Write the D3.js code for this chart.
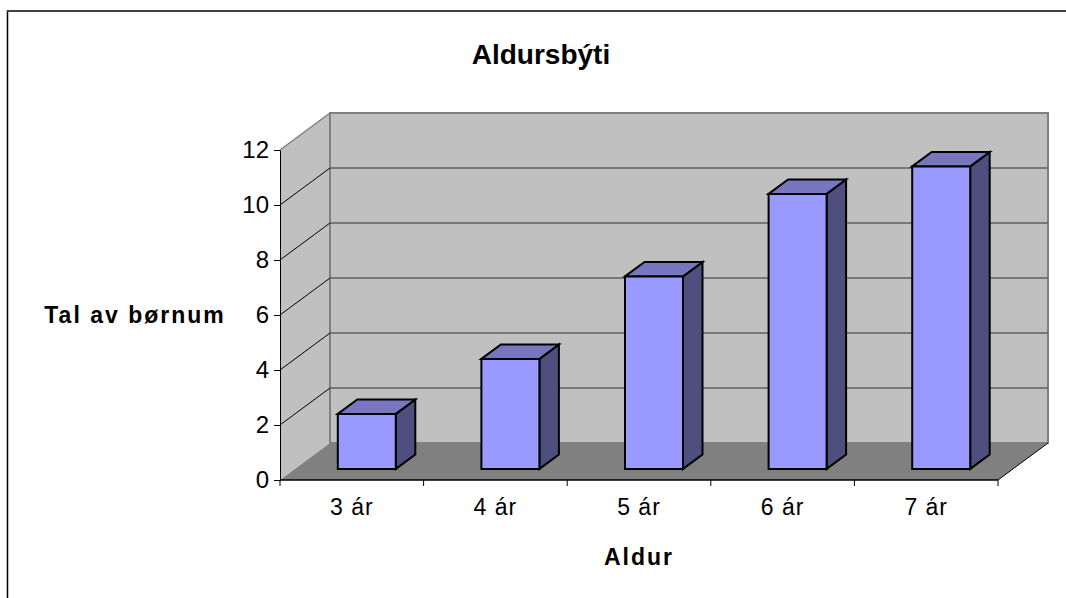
<!DOCTYPE html>
<html>
<head>
<meta charset="utf-8">
<script src="https://cdn.jsdelivr.net/npm/d3@7"></script>
<style>
  html, body { margin: 0; padding: 0; background: #fff; }
  svg { display: block; }
  text { font-family: "Liberation Sans", Arial, sans-serif; fill: #000; }
</style>
</head>
<body>
<div id="chart"></div>
<script>
(function () {
  const categories = ["3 ár", "4 ár", "5 ár", "6 ár", "7 ár"];
  const values = [2, 4, 7, 10, 11];
  const yTicks = [0, 2, 4, 6, 8, 10, 12];

  const width = 1066;
  const height = 598;

  // front edge of the 3d box, the back wall is this shifted by depth
  const depthX = 50;
  const depthY = -37;

  const x = d3.scaleBand(categories, [280, 998]);
  const y = d3.scaleLinear([0, 12], [480, 150]);

  // bars stand between these fractions of the floor depth
  const barFront = 0.3;
  const barBack = 0.69;
  const barWidth = 58;

  const svg = d3.select("#chart").append("svg")
    .attr("width", width)
    .attr("height", height);

  const line = d3.line();
  const x0 = x.range()[0];
  const x1 = x.range()[1];

  function shift(p, t) {
    return [p[0] + depthX * t, p[1] + depthY * t];
  }

  // chart frame, open on the right and bottom
  svg.append("path")
    .attr("d", line([[7.5, height], [7.5, 10]]))
    .attr("fill", "none")
    .attr("stroke", "#000")
    .attr("stroke-width", 1.5);

  svg.append("path")
    .attr("d", line([[7, 11], [width, 11]]))
    .attr("fill", "none")
    .attr("stroke", "#404040")
    .attr("stroke-width", 2);

  // side wall
  svg.append("path")
    .attr("d", line([[x0, y(0)], [x0, y(12)], shift([x0, y(12)], 1), shift([x0, y(0)], 1)]) + "Z")
    .attr("fill", "#c0c0c0");

  // back wall
  svg.append("path")
    .attr("d", line([shift([x0, y(0)], 1), shift([x0, y(12)], 1), shift([x1, y(12)], 1), shift([x1, y(0)], 1)]) + "Z")
    .attr("fill", "#c0c0c0")
    .attr("stroke", "#808080")
    .attr("stroke-width", 2);

  // floor
  svg.append("path")
    .attr("d", line([[x0, y(0)], shift([x0, y(0)], 1), shift([x1, y(0)], 1), [x1, y(0)]]) + "Z")
    .attr("fill", "#808080");

  svg.append("path")
    .attr("d", line([[x1, y(0)], shift([x1, y(0)], 1)]))
    .attr("stroke", "#000")
    .attr("fill", "none");

  // gridlines on back wall and side wall
  svg.append("g").selectAll("path")
    .data(yTicks.filter(function (d) { return d > 0 && d < 12; }))
    .join("path")
      .attr("d", function (d) { return line([shift([x0, y(d)], 1), shift([x1, y(d)], 1)]); })
      .attr("stroke", "#606060")
      .attr("stroke-width", 1.5);

  svg.append("g").selectAll("path")
    .data(yTicks.filter(function (d) { return d > 0 && d < 12; }))
    .join("path")
      .attr("d", function (d) { return line([[x0, y(d)], shift([x0, y(d)], 1)]); })
      .attr("stroke", "#000")
      .attr("stroke-width", 1);

  svg.append("path")
    .attr("d", line([[x0, y(12)], shift([x0, y(12)], 1)]))
    .attr("stroke", "#808080")
    .attr("stroke-width", 1.5);

  // axes
  const yAxis = d3.axisLeft(y).tickValues(yTicks).tickSize(6).tickPadding(5).tickSizeOuter(0);
  const gy = svg.append("g")
    .attr("transform", "translate(" + x0 + ",0)")
    .call(yAxis);
  gy.selectAll("text").attr("font-size", 24).attr("dy", "0.3em");

  const xAxis = d3.axisBottom(x).tickSize(0).tickPadding(19);
  const gx = svg.append("g")
    .attr("transform", "translate(0," + y(0) + ")")
    .call(xAxis);
  gx.select(".domain").remove();
  gx.selectAll("text").attr("font-size", 23).attr("letter-spacing", 1);
  gx.selectAll("line.sep")
    .data(d3.range(categories.length + 1))
    .join("line")
      .attr("class", "sep")
      .attr("x1", function (i) { return x0 + x.step() * i; })
      .attr("x2", function (i) { return x0 + x.step() * i; })
      .attr("y1", 0)
      .attr("y2", 6)
      .attr("stroke", "#000");

  svg.append("path")
    .attr("d", line([[x0, y(0)], [x1, y(0)]]))
    .attr("stroke", "#000")
    .attr("stroke-width", 1.5);

  // bars
  const bars = svg.append("g").selectAll("g")
    .data(categories.map(function (c, i) { return { cat: c, value: values[i] }; }))
    .join("g");

  function barCorners(d) {
    const left = x(d.cat) + (x.bandwidth() - barWidth) / 2;
    return {
      bl: shift([left, y(0)], barFront),
      br: shift([left + barWidth, y(0)], barFront),
      tl: shift([left, y(d.value)], barFront),
      tr: shift([left + barWidth, y(d.value)], barFront)
    };
  }

  function backOf(p) {
    return shift(p, barBack - barFront);
  }

  bars.append("path")
    .attr("d", function (d) {
      const c = barCorners(d);
      return line([c.tr, backOf(c.tr), backOf(c.br), c.br]) + "Z";
    })
    .attr("fill", "#4f4f7f");

  bars.append("path")
    .attr("d", function (d) {
      const c = barCorners(d);
      return line([c.tl, backOf(c.tl), backOf(c.tr), c.tr]) + "Z";
    })
    .attr("fill", "#7777bf");

  bars.append("path")
    .attr("d", function (d) {
      const c = barCorners(d);
      return line([c.bl, c.tl, c.tr, c.br]) + "Z";
    })
    .attr("fill", "#9999ff");

  bars.selectAll("path")
    .attr("stroke", "#000")
    .attr("stroke-width", 2)
    .attr("stroke-linejoin", "miter");

  // titles
  svg.append("text")
    .attr("x", 541)
    .attr("y", 64)
    .attr("text-anchor", "middle")
    .attr("font-size", 28)
    .attr("font-weight", "bold")
    .text("Aldursbýti");

  svg.append("text")
    .attr("x", 135)
    .attr("y", 323)
    .attr("text-anchor", "middle")
    .attr("font-size", 23)
    .attr("font-weight", "bold")
    .attr("letter-spacing", 2)
    .text("Tal av børnum");

  svg.append("text")
    .attr("x", 639)
    .attr("y", 565)
    .attr("text-anchor", "middle")
    .attr("font-size", 23)
    .attr("font-weight", "bold")
    .attr("letter-spacing", 2)
    .text("Aldur");
})();
</script>
</body>
</html>
